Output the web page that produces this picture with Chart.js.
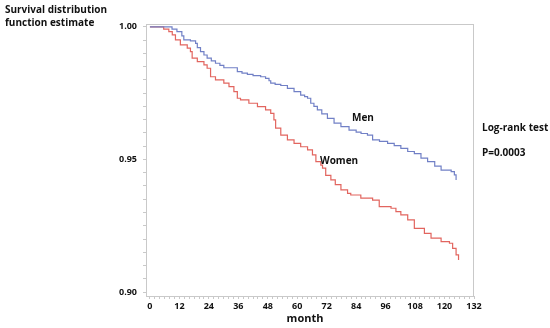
<!DOCTYPE html>
<html>
<head>
<meta charset="utf-8">
<script src="https://cdn.jsdelivr.net/npm/chart.js@4/dist/chart.umd.min.js"></script>
<style>
html,body{margin:0;padding:0;background:#fff;}
#wrap{width:550px;height:328px;position:relative;}
</style>
</head>
<body>
<div id="wrap"><canvas id="c" width="550" height="328"></canvas></div>
<script>
// ---- data ----
const menMonths = [0, 9, 11, 13, 13.8, 16.5, 18.6, 19.3, 20.6, 22, 23.3, 25, 26.7, 28.5, 30.1, 35.6, 37.5, 39.7, 42, 45.1, 47.1, 48.5, 49.2, 51, 53.3, 56, 58.7, 61.4, 63, 64.2, 65.5, 66.8, 68.2, 70, 72.3, 75, 77.8, 81.1, 84, 86, 88.6, 90.7, 93.5, 96.8, 99.5, 102.2, 105, 107.7, 110.4, 113.1, 116, 118.6, 122.7, 124, 124.7];
const menSurv = [1.0, 0.9992, 0.9982, 0.9966, 0.9951, 0.9947, 0.9938, 0.9922, 0.9907, 0.9894, 0.9882, 0.9872, 0.9863, 0.9855, 0.9846, 0.9831, 0.9826, 0.9821, 0.9816, 0.9812, 0.9806, 0.9797, 0.9788, 0.9783, 0.9779, 0.9768, 0.9756, 0.9743, 0.9737, 0.9731, 0.9712, 0.9700, 0.9687, 0.9672, 0.9655, 0.9637, 0.9624, 0.9611, 0.9603, 0.9598, 0.9592, 0.9574, 0.9568, 0.9561, 0.9552, 0.9542, 0.9530, 0.9522, 0.9505, 0.9492, 0.9475, 0.9460, 0.9454, 0.9442, 0.9423];
const womenMonths = [0, 5.6, 7.7, 9.1, 10.4, 12.4, 15.2, 16.5, 17.2, 19.3, 22, 23.3, 24.7, 26.7, 30.1, 32.2, 34.2, 35.6, 36.9, 40.3, 43.8, 47.1, 49.2, 50.5, 51.2, 53.3, 56, 58.7, 61.4, 64.2, 66.2, 67.6, 69.6, 70.3, 71.6, 73.7, 75.5, 77.8, 80.5, 81.8, 85.9, 90.7, 93.4, 98.2, 100.2, 102.2, 105, 107.7, 111.8, 114.5, 118.6, 122, 123.3, 124.7, 125.7];
const womenSurv = [1.0, 0.9992, 0.9982, 0.9970, 0.9951, 0.9932, 0.9920, 0.9907, 0.9882, 0.9869, 0.9857, 0.9844, 0.9812, 0.9800, 0.9788, 0.9775, 0.9756, 0.9731, 0.9725, 0.9712, 0.9699, 0.9687, 0.9674, 0.9649, 0.9618, 0.9592, 0.9574, 0.9561, 0.9548, 0.9536, 0.9517, 0.9492, 0.9479, 0.9467, 0.9440, 0.9423, 0.9405, 0.9385, 0.9372, 0.9366, 0.9354, 0.9347, 0.9322, 0.9316, 0.9303, 0.9291, 0.9272, 0.9240, 0.9221, 0.9203, 0.9190, 0.9184, 0.9165, 0.9140, 0.9121];
const xMajorTicks = [0, 12, 24, 36, 48, 60, 72, 84, 96, 108, 120, 132];
const yMajorTicks = [0.90, 0.95, 1.00];
const seriesLabels = ["Men", "Women"];

const toPts = (xs, ys) => xs.map((x, i) => ({x: x, y: ys[i]}));
const FONT = '"Open Sans", "DejaVu Sans", sans-serif';
const axisGrey = '#c9c9c9';

const textPlugin = {
  id: 'texts',
  afterDraw(chart) {
    const ctx = chart.ctx;
    const a = chart.chartArea;
    ctx.save();
    ctx.strokeStyle = axisGrey;
    ctx.lineWidth = 1;
    ctx.strokeRect(a.left + 0.5, a.top + 0.5, a.right - a.left - 1, a.bottom - a.top);
    ctx.fillStyle = '#111';
    ctx.textBaseline = 'middle';
    ctx.textAlign = 'left';
    ctx.font = 'bold 10px ' + FONT;
    ctx.fillText('Survival distribution', 5, 10);
    ctx.fillText('function estimate', 5, 23);
    ctx.fillText(seriesLabels[0], 352, 118);
    ctx.fillText(seriesLabels[1], 320, 161);
    ctx.fillText('Log-rank test', 482, 128);
    ctx.fillText('P=0.0003', 482, 153);
    ctx.font = 'bold 11px ' + FONT;
    ctx.textAlign = 'center';
    ctx.fillText('month', 305, 319);
    ctx.restore();
  }
};

new Chart(document.getElementById('c'), {
  type: 'line',
  data: {
    datasets: [
      {label: seriesLabels[0], data: toPts(menMonths, menSurv), borderColor: '#7180c6', borderWidth: 1.2, pointRadius: 0, stepped: true, fill: false},
      {label: seriesLabels[1], data: toPts(womenMonths, womenSurv), borderColor: '#e2655f', borderWidth: 1.2, pointRadius: 0, stepped: true, fill: false}
    ]
  },
  options: {
    responsive: false,
    animation: false,
    devicePixelRatio: 1,
    layout: {padding: {top: 24, right: 76, left: 0, bottom: 0}},
    plugins: {legend: {display: false}, tooltip: {enabled: false}},
    scales: {
      x: {
        type: 'linear', min: -1.6, max: 132,
        afterBuildTicks(scale) {
          const t = [];
          for (let v = 0; v <= 132; v += 2) t.push({value: v});
          scale.ticks = t;
        },
        afterFit(scale) { scale.height = 32; },
        ticks: {
          autoSkip: false, maxRotation: 0, padding: 2,
          color: '#111', font: {family: FONT, size: 9, weight: 'bold'},
          callback: (v) => xMajorTicks.includes(v) ? String(v) : ''
        },
        grid: {drawOnChartArea: false, tickLength: 3, color: axisGrey},
        border: {color: axisGrey}
      },
      y: {
        type: 'linear', min: 0.8985, max: 1.0011,
        afterBuildTicks(scale) {
          const t = [];
          for (let k = 180; k <= 200; k++) t.push({value: k / 200});
          scale.ticks = t;
        },
        afterFit(scale) { scale.width = 146; },
        ticks: {
          autoSkip: false, padding: 6,
          color: '#111', font: {family: FONT, size: 9, weight: 'bold'},
          callback: (v) => yMajorTicks.some(m => Math.abs(m - v) < 1e-6) ? v.toFixed(2) : ''
        },
        grid: {drawOnChartArea: false, tickLength: 3, color: axisGrey},
        border: {color: axisGrey}
      }
    }
  },
  plugins: [textPlugin]
});
</script>
</body>
</html>
